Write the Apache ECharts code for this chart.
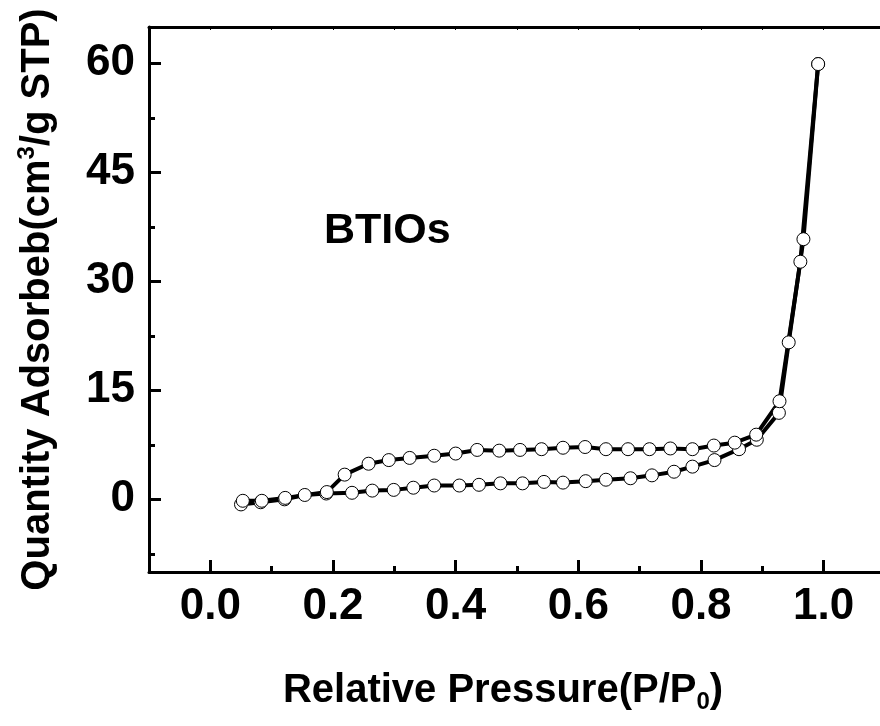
<!DOCTYPE html>
<html>
<head>
<meta charset="utf-8">
<script src="https://cdn.jsdelivr.net/npm/echarts@6/dist/echarts.min.js"></script>
<style>
  html, body { margin: 0; padding: 0; background: #fff; }
  #chart { width: 880px; height: 726px; }
</style>
</head>
<body>
<div id="chart"></div>
<script>
// adsorption branch (P/P0, quantity)
var adsP = [0.050, 0.082, 0.121, 0.154, 0.189, 0.231, 0.264, 0.299, 0.331, 0.365, 0.406, 0.438, 0.473, 0.509, 0.544, 0.575, 0.612, 0.645, 0.685, 0.720, 0.756, 0.786, 0.822, 0.862, 0.891, 0.927, 0.943, 0.967, 0.991];
var adsQ = [-0.7, -0.4, 0.0, 0.6, 0.8, 0.9, 1.2, 1.3, 1.6, 1.9, 1.9, 2.0, 2.2, 2.2, 2.4, 2.3, 2.5, 2.7, 2.9, 3.3, 3.8, 4.5, 5.4, 6.9, 8.2, 11.9, 21.6, 35.8, 59.9];
// desorption branch
var desP = [0.991, 0.962, 0.928, 0.890, 0.855, 0.821, 0.786, 0.750, 0.716, 0.681, 0.645, 0.611, 0.575, 0.540, 0.505, 0.471, 0.435, 0.400, 0.365, 0.325, 0.291, 0.258, 0.219, 0.190, 0.122, 0.084, 0.053];
var desQ = [59.9, 32.7, 13.5, 8.9, 7.8, 7.4, 6.9, 7.0, 6.9, 6.9, 6.9, 7.2, 7.1, 6.9, 6.8, 6.7, 6.8, 6.3, 6.0, 5.7, 5.4, 4.9, 3.4, 1.0, 0.2, -0.2, -0.2];

// ticks
var xMajor = [0, 0.2, 0.4, 0.6, 0.8, 1.0];
var xMinor = [0.1, 0.3, 0.5, 0.7, 0.9];
var xTop = [0, 0.1, 0.2, 0.3, 0.4, 0.5, 0.6, 0.7, 0.8, 0.9, 1.0];
var yMajor = [0, 15, 30, 45, 60];
var yMinor = [-7.5, 7.5, 22.5, 37.5, 52.5];

function zip(xs, ys) {
    return xs.map(function (x, i) { return [x, ys[i]]; });
}

var font = '"Liberation Sans", Arial, sans-serif';
var axisLine = { show: true, onZero: false, lineStyle: { color: '#000', width: 3 } };

var myChart = echarts.init(document.getElementById('chart'));
myChart.setOption({
    animation: false,
    grid: { left: 149, top: 27, right: -5, bottom: 154, outerBoundsMode: 'none', containLabel: false },
    xAxis: [
        {
            type: 'value', position: 'bottom', min: -0.1, max: 1.1,
            axisLine: axisLine,
            splitLine: { show: false },
            axisTick: { inside: true, length: 12, customValues: xMajor, lineStyle: { width: 3, color: '#000' } },
            axisLabel: {
                customValues: xMajor, margin: 13,
                formatter: function (v) { return v.toFixed(1); },
                fontFamily: font, fontWeight: 'bold', fontSize: 44, color: '#000'
            },
            name: '{t|Relative Pressure(P/P}{s|0}{t|)}',
            nameLocation: 'middle', nameGap: 96,
            nameTextStyle: {
                padding: [0, 28, 0, 0],
                rich: {
                    t: { fontFamily: font, fontWeight: 'bold', fontSize: 40, color: '#000' },
                    s: { fontFamily: font, fontWeight: 'bold', fontSize: 24, color: '#000', verticalAlign: 'bottom', padding: [22, 0, 0, 0] }
                }
            }
        },
        {
            type: 'value', position: 'bottom', min: -0.1, max: 1.1,
            axisLine: { show: false, onZero: false },
            splitLine: { show: false },
            axisTick: { inside: true, length: 6, customValues: xMinor, lineStyle: { width: 3, color: '#000' } },
            axisLabel: { show: false }
        },
        {
            type: 'value', position: 'top', min: -0.1, max: 1.1,
            axisLine: axisLine,
            splitLine: { show: false },
            axisTick: { inside: true, length: 3, customValues: xTop, lineStyle: { width: 1, color: '#000' } },
            axisLabel: { show: false }
        }
    ],
    yAxis: [
        {
            type: 'value', position: 'left', min: -10, max: 65,
            axisLine: axisLine,
            splitLine: { show: false },
            axisTick: { inside: true, length: 12, customValues: yMajor, lineStyle: { width: 3, color: '#000' } },
            axisLabel: {
                customValues: yMajor, margin: 14,
                fontFamily: font, fontWeight: 'bold', fontSize: 44, color: '#000'
            },
            name: '{t|Quantity Adsorbeb(cm}{p|3}{t|/g STP)}',
            nameLocation: 'middle', nameGap: 88, nameRotate: 90,
            nameTextStyle: {
                rich: {
                    t: { fontFamily: font, fontWeight: 'bold', fontSize: 40, color: '#000' },
                    p: { fontFamily: font, fontWeight: 'bold', fontSize: 24, color: '#000', verticalAlign: 'top', padding: [0, 0, 22, 0] }
                }
            }
        },
        {
            type: 'value', position: 'left', min: -10, max: 65,
            axisLine: { show: false, onZero: false },
            splitLine: { show: false },
            axisTick: { inside: true, length: 6, customValues: yMinor, lineStyle: { width: 3, color: '#000' } },
            axisLabel: { show: false }
        }
    ],
    graphic: [{
        type: 'text', left: 324, top: 210,
        style: { text: 'BTIOs', fontFamily: font, fontWeight: 'bold', fontSize: 43, fill: '#000' }
    }],
    series: [
        {
            name: 'adsorption', type: 'line', data: zip(adsP, adsQ),
            symbol: 'circle', symbolSize: 13,
            lineStyle: { color: '#000', width: 4 },
            itemStyle: { color: '#fff', borderColor: '#000', borderWidth: 1 }
        },
        {
            name: 'desorption', type: 'line', data: zip(desP, desQ),
            symbol: 'circle', symbolSize: 13,
            lineStyle: { color: '#000', width: 4 },
            itemStyle: { color: '#fff', borderColor: '#000', borderWidth: 1 }
        }
    ]
});
</script>
</body>
</html>
